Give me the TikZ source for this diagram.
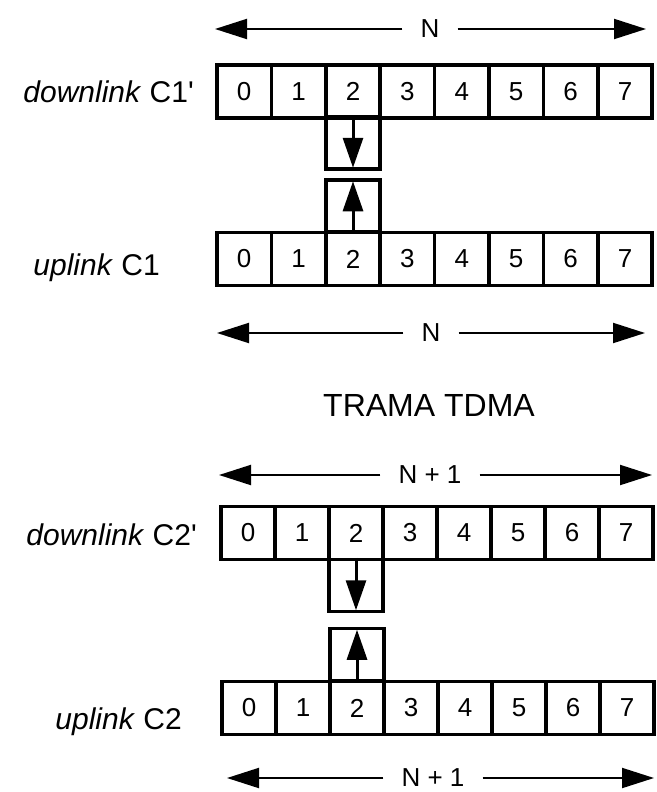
\documentclass[tikz,border=0pt]{standalone}
\usepackage{fontspec}
\setmainfont{Liberation Sans}
\usetikzlibrary{arrows.meta}

\begin{document}
\begin{tikzpicture}[x=1pt,y=-1pt,>={Triangle[length=32pt,width=20pt]},
  cell/.style={draw, line width=3.5pt, minimum width=54.4pt, minimum height=53pt, inner sep=0pt, font=\fontsize{26}{30}\selectfont},
  slot/.style={draw, line width=3.5pt, minimum width=54.4pt, minimum height=52pt, inner sep=0pt},
  lbl/.style={anchor=base east, inner sep=0pt, font=\fontsize{30}{36}\selectfont},
  count/.style={inner xsep=18pt, inner ysep=0pt, font=\fontsize{26}{30}\selectfont},
  span/.style={->, line width=2pt},
  hop/.style={-{Triangle[length=30pt,width=20pt]}, line width=3pt, shorten >=3pt}]
\useasboundingbox (0,0) rectangle (656,792);

% frame N
\node[count] (n1) at (430,29) {N};
\coordinate (n1l) at (215,29);
\coordinate (n1r) at (646,29);
\draw[span] (n1) -- (n1l);
\draw[span] (n1) -- (n1r);

% downlink C1'
\node[lbl] (d1) at (194,102) {\textit{downlink} C1\textquotesingle};
\node[cell] (d1c0) at (244.2,91.5) {0};
\node[cell] (d1c1) at (298.6,91.5) {1};
\node[cell] (d1c2) at (353.0,91.5) {2};
\node[cell] (d1c3) at (407.4,91.5) {3};
\node[cell] (d1c4) at (461.8,91.5) {4};
\node[cell] (d1c5) at (516.2,91.5) {5};
\node[cell] (d1c6) at (570.6,91.5) {6};
\node[cell] (d1c7) at (625.0,91.5) {7};
\node[slot] (d1s) at (353.0,143) {};
\draw[hop] (d1s.north) -- (d1s.south);

% uplink C1
\node[slot] (u1s) at (353.0,206) {};
\draw[hop] (u1s.south) -- (u1s.north);
\node[lbl] (u1) at (160,275) {\textit{uplink} C1};
\node[cell] (u1c0) at (244.2,259) {0};
\node[cell] (u1c1) at (298.6,259) {1};
\node[cell] (u1c2) at (353.0,259) {2};
\node[cell] (u1c3) at (407.4,259) {3};
\node[cell] (u1c4) at (461.8,259) {4};
\node[cell] (u1c5) at (516.2,259) {5};
\node[cell] (u1c6) at (570.6,259) {6};
\node[cell] (u1c7) at (625.0,259) {7};

\node[count] (n2) at (431,333) {N};
\coordinate (n2l) at (217,333);
\coordinate (n2r) at (645,333);
\draw[span] (n2) -- (n2l);
\draw[span] (n2) -- (n2r);

\node[font=\fontsize{32}{38}\selectfont] (title) at (429,405) {TRAMA TDMA};

% frame N + 1
\node[count] (n3) at (430,475) {N + 1};
\coordinate (n3l) at (219,475);
\coordinate (n3r) at (652,475);
\draw[span] (n3) -- (n3l);
\draw[span] (n3) -- (n3r);

% downlink C2'
\node[lbl] (d2) at (197,545) {\textit{downlink} C2\textquotesingle};
\node[cell] (d2c0) at (248,533) {0};
\node[cell] (d2c1) at (302,533) {1};
\node[cell] (d2c2) at (356,533) {2};
\node[cell] (d2c3) at (410,533) {3};
\node[cell] (d2c4) at (464,533) {4};
\node[cell] (d2c5) at (518,533) {5};
\node[cell] (d2c6) at (572,533) {6};
\node[cell] (d2c7) at (626,533) {7};
\node[slot] (d2s) at (356,585.5) {};
\draw[hop] (d2s.north) -- (d2s.south);

% uplink C2
\node[slot] (u2s) at (357,654.5) {};
\draw[hop] (u2s.south) -- (u2s.north);
\node[lbl] (u2) at (182,729) {\textit{uplink} C2};
\node[cell] (u2c0) at (249,708) {0};
\node[cell] (u2c1) at (303,708) {1};
\node[cell] (u2c2) at (357,708) {2};
\node[cell] (u2c3) at (411,708) {3};
\node[cell] (u2c4) at (465,708) {4};
\node[cell] (u2c5) at (519,708) {5};
\node[cell] (u2c6) at (573,708) {6};
\node[cell] (u2c7) at (627,708) {7};

\node[count] (n4) at (433,778) {N + 1};
\coordinate (n4l) at (227,778);
\coordinate (n4r) at (654,778);
\draw[span] (n4) -- (n4l);
\draw[span] (n4) -- (n4r);
\end{tikzpicture}
\end{document}
